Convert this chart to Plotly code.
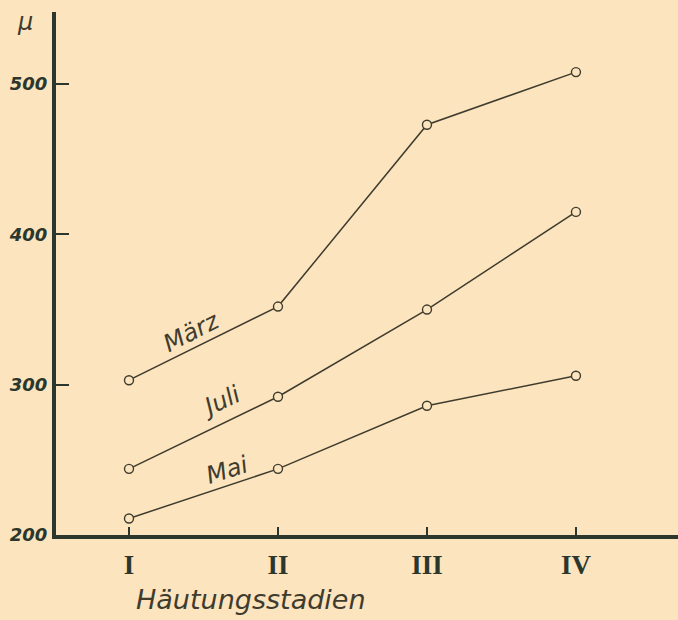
import plotly.graph_objects as go

stages = [1, 2, 3, 4]
stage_labels = ["I", "II", "III", "IV"]
maerz = [303, 352, 473, 508]
juli = [244, 292, 350, 415]
mai = [211, 244, 286, 306]
y_ticks = [200, 300, 400, 500]

BG = "#fbe4be"
INK = "#3f3c2e"
AXIS = "#2b372d"

fig = go.Figure()
for name, vals in [("März", maerz), ("Juli", juli), ("Mai", mai)]:
    fig.add_trace(go.Scatter(
        x=stages, y=vals, mode="lines+markers", name=name,
        line=dict(color=INK, width=1.5),
        marker=dict(symbol="circle", size=9, color=BG,
                    line=dict(color=INK, width=1.4)),
        showlegend=False, hoverinfo="skip",
    ))

hand = "DejaVu Sans"
fig.add_annotation(x=1.42, y=335, xref="x", yref="y", text="<i>März</i>",
                   textangle=-27, showarrow=False,
                   xanchor="center", yanchor="middle",
                   font=dict(family=hand, size=24, color=INK))
fig.add_annotation(x=1.62, y=289, xref="x", yref="y", text="<i>Juli</i>",
                   textangle=-25, showarrow=False,
                   xanchor="center", yanchor="middle",
                   font=dict(family=hand, size=24, color=INK))
fig.add_annotation(x=1.66, y=243, xref="x", yref="y", text="<i>Mai</i>",
                   textangle=-17, showarrow=False,
                   xanchor="center", yanchor="middle",
                   font=dict(family=hand, size=24, color=INK))
fig.add_annotation(x=1.82, y=-0.124, xref="x", yref="paper",
                   text="<i>Häutungsstadien</i>", showarrow=False,
                   xanchor="center", yanchor="middle",
                   font=dict(family=hand, size=27, color=INK))
fig.add_annotation(x=-0.05, y=0.981, xref="paper", yref="paper",
                   text="<i>µ</i>", showarrow=False,
                   xanchor="center", yanchor="middle",
                   font=dict(family=hand, size=24, color=INK))

fig.update_layout(
    width=678, height=620,
    margin=dict(l=56, r=0, t=12, b=85),
    paper_bgcolor=BG, plot_bgcolor=BG,
    xaxis=dict(
        range=[0.510, 4.685], showgrid=False, zeroline=False,
        showline=True, linewidth=4, linecolor=AXIS,
        tickmode="array", tickvals=stages,
        ticktext=["<b>%s</b>" % s for s in stage_labels],
        ticks="inside", ticklen=8, tickwidth=1.5, tickcolor=AXIS,
        tickfont=dict(family="Liberation Serif", size=27, color=AXIS),
        ticklabelstandoff=3,
    ),
    yaxis=dict(
        range=[200, 548], showgrid=False, zeroline=False,
        showline=True, linewidth=4, linecolor=AXIS,
        tickmode="array", tickvals=y_ticks,
        ticktext=["<b><i>%d</i></b>" % v for v in y_ticks],
        ticks="inside", ticklen=13, tickwidth=1.5, tickcolor=AXIS,
        tickfont=dict(family=hand, size=18, color=AXIS),
        ticklabelstandoff=1,
    ),
)

fig.write_html(
    "out.html",
    config={"displayModeBar": False},
    post_script="document.body.style.margin='0px';"
                "document.body.style.background='%s';" % BG,
)
